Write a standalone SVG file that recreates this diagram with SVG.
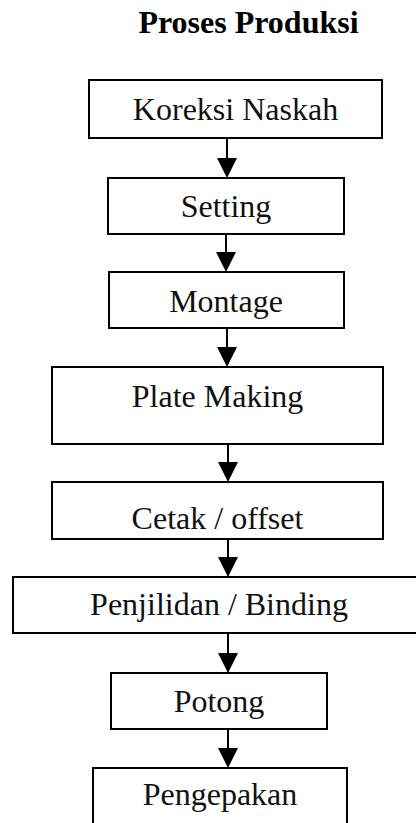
<svg xmlns="http://www.w3.org/2000/svg" width="416" height="823" viewBox="0 0 416 823">
<style>
.box{fill:#fff;stroke:#000;stroke-width:2}
.lbl{font-family:"Liberation Serif","Times New Roman",serif;font-size:32px;fill:#111;text-anchor:middle}
.title{font-family:"Liberation Serif","Times New Roman",serif;font-size:32px;font-weight:bold;fill:#000;text-anchor:middle}
.edge{stroke:#000;stroke-width:2;fill:none;marker-end:url(#ah)}
</style>
<defs>
<marker id="ah" viewBox="0 0 20 20" refX="10" refY="10" markerWidth="20" markerHeight="20" markerUnits="userSpaceOnUse" orient="auto">
<path d="M0,0 L20,10 L0,20 Z" fill="#000"/>
</marker>
</defs>
<rect width="416" height="823" fill="#fff"/>
<text class="title" x="248.5" y="33">Proses Produksi</text>
<g id="connectors">
<path class="edge" d="M227,138 V168"/>
<path class="edge" d="M226,234 V262"/>
<path class="edge" d="M227,328 V357"/>
<path class="edge" d="M228,444 V472"/>
<path class="edge" d="M228,539 V567"/>
<path class="edge" d="M228,633 V663"/>
<path class="edge" d="M228,729 V758"/>
</g>
<g id="n1"><rect class="box" x="89" y="80" width="293" height="58"/><text class="lbl" x="235.5" y="120">Koreksi Naskah</text></g>
<g id="n2"><rect class="box" x="108" y="178" width="236" height="56"/><text class="lbl" x="226" y="217">Setting</text></g>
<g id="n3"><rect class="box" x="109" y="272" width="235" height="56"/><text class="lbl" x="226" y="312">Montage</text></g>
<g id="n4"><rect class="box" x="52" y="367" width="331" height="77"/><text class="lbl" x="217.5" y="407">Plate Making</text></g>
<g id="n5"><rect class="box" x="52" y="482" width="331" height="57"/><text class="lbl" x="217.5" y="529">Cetak / offset</text></g>
<g id="n6"><rect class="box" x="13" y="577" width="420" height="56"/><text class="lbl" x="219" y="615">Penjilidan / Binding</text></g>
<g id="n7"><rect class="box" x="111" y="673" width="216" height="56"/><text class="lbl" x="219" y="712">Potong</text></g>
<g id="n8"><rect class="box" x="93" y="768" width="254" height="70"/><text class="lbl" x="220" y="805">Pengepakan</text></g>
</svg>
